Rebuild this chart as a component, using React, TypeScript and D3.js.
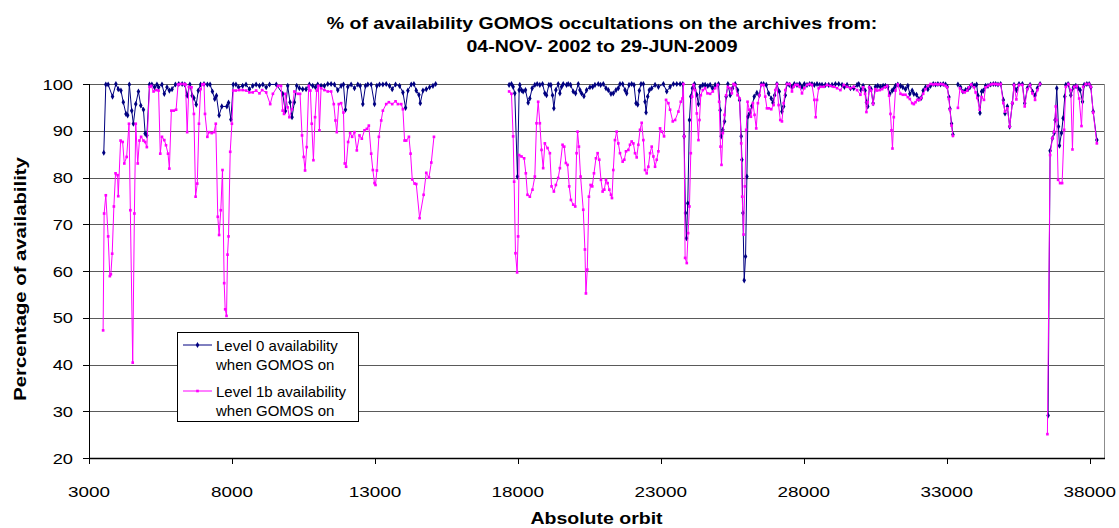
import React from 'react';
import * as d3 from 'd3';

const W = 1119;
const H = 528;

const titleLines = ['% of availability GOMOS occultations on the archives from:', '04-NOV- 2002 to 29-JUN-2009'];
const xTitle = 'Absolute orbit';
const yTitle = 'Percentage of availability';
const xTicks = [3000, 8000, 13000, 18000, 23000, 28000, 33000, 38000];
const yTicks = [20, 30, 40, 50, 60, 70, 80, 90, 100];
const legendLabels = [
  ['Level 0 availability', 'when GOMOS on'],
  ['Level 1b availability', 'when GOMOS on'],
];

type Pt = [number, number | null];

// Level 0 availability when GOMOS on: [absolute orbit, %] (null = no data)
const level0: Pt[] = [
  [3517, 85.3], [3588, 99.9], [3670, 99.9], [3823, 97.3], [3941, 100], [4023, 98.9], [4117, 98.6],
  [4200, 96.1], [4294, 93.6], [4352, 93.3], [4411, 99.9], [4494, 94.3], [4552, 91.5], [4635, 95.7],
  [4729, 98.4], [4811, 95.4], [4905, 94.5], [4964, 89.4], [5023, 89.0], [5117, 99.9], [5199, 99.9],
  [5293, 99.3], [5376, 99.9], [5434, 99.3], [5552, 99.9], [5634, 97.9], [5728, 99.3], [5811, 98.6],
  [5905, 98.9], [6022, 99.9], [6140, 100], [6258, 100], [6352, 99.9], [6434, 97.5], [6528, 99.9],
  [6610, 97.5], [6669, 97.0], [6751, 95.6], [6822, 98.6], [6904, 99.9], [7022, 100], [7140, 99.9],
  [7234, 99.9], [7316, 98.4], [7398, 96.8], [7457, 97.5], [7551, 93.3], [7645, 95.2], [7822, 95.2],
  [7880, 96.0], [7963, 92.4], [8045, 99.9], [8139, 99.9], [8233, 99.3], [8374, 99.6], [8492, 99.9],
  [8610, 98.9], [8727, 99.6], [8845, 99.9], [8962, 99.6], [9080, 99.9], [9197, 99.3], [9315, 99.9],
  [9550, 99.9], [9774, 97.9], [9867, 94.2], [9949, 99.6], [10031, 96.1], [10101, 92.9], [10183, 96.1],
  [10265, 99.6], [10358, 99.1], [10475, 98.9], [10592, 98.9], [10708, 99.9], [10825, 99.6], [10919, 99.3],
  [11000, 99.9], [11117, 99.6], [11234, 99.6], [11351, 100], [11468, 100], [11584, 99.9], [11701, 98.7],
  [11818, 99.6], [11900, 99.9], [11970, 94.5], [12052, 99.4], [12168, 99.9], [12285, 99.1], [12402, 99.9],
  [12484, 99.6], [12577, 95.7], [12671, 99.6], [12752, 99.9], [12869, 99.9], [12986, 95.7], [13068, 99.6],
  [13161, 99.9], [13278, 99.9], [13395, 100], [13512, 99.6], [13605, 98.9], [13722, 99.9], [13862, 99.6],
  [13979, 98.2], [14072, 94.9], [14154, 98.6], [14271, 99.9], [14364, 100], [14446, 98.6], [14539, 97.7],
  [14586, 95.9], [14680, 98.6], [14796, 98.9], [14913, 99.3], [15030, 99.6], [15124, 100],
  [16400, null],
  [17694, 99.8], [17776, 100], [17834, 99.4], [17892, 98.0], [17986, 80.2], [18044, 98.7], [18068, 99.8],
  [18126, 98.7], [18184, 98.4], [18266, 98.7], [18360, 96.0], [18418, 96.9], [18500, 99.1], [18593, 99.8],
  [18675, 100], [18768, 99.8], [18862, 100], [18944, 98.0], [19002, 97.6], [19084, 99.8], [19154, 99.8],
  [19212, 97.6], [19259, 94.8], [19329, 98.7], [19411, 100], [19469, 98.0], [19528, 99.4], [19586, 100],
  [19703, 99.8], [19761, 100], [19843, 99.8], [19936, 98.4], [20018, 98.0], [20112, 100], [20170, 98.7],
  [20228, 98.0], [20310, 97.4], [20404, 98.7], [20520, 99.3], [20614, 99.4], [20696, 99.8], [20812, 100],
  [20894, 99.8], [20988, 100], [21081, 99.1], [21163, 98.7], [21256, 97.9], [21338, 98.0], [21431, 98.7],
  [21513, 99.1], [21572, 100], [21665, 100], [21747, 98.7], [21805, 98.0], [21887, 99.8], [21980, 100],
  [22062, 99.8], [22132, 95.9], [22191, 95.6], [22249, 98.6], [22307, 100], [22389, 100], [22448, 96.2],
  [22483, 93.9], [22541, 97.3], [22599, 98.7], [22681, 99.1], [22798, 99.8], [22915, 99.4], [23090, 100],
  [23207, 98.4], [23323, 99.4], [23440, 100], [23557, 100], [23674, 100], [23767, 100], [23814, 88.8],
  [23861, 72.4], [23896, 67.0], [23942, 74.5], [24001, 92.3], [24048, 97.3], [24106, 99.1], [24176, 100],
  [24258, 97.7], [24316, 95.7], [24375, 99.4], [24468, 99.8], [24550, 99.8], [24643, 99.6], [24725, 99.8],
  [24807, 99.1], [24900, 99.8], [25017, 100], [25075, 94.4], [25110, 88.8], [25169, 90.2], [25227, 92.0],
  [25285, 97.3], [25344, 100], [25426, 97.6], [25508, 99.1], [25601, 100], [25683, 98.7], [25753, 96.6],
  [25811, 88.8], [25835, 83.8], [25870, 72.4], [25916, 58.0], [25963, 63.1], [26010, 80.2], [26045, 93.0],
  [26103, 93.7], [26185, 95.3], [26267, 97.3], [26360, 98.1], [26442, 97.6], [26512, 100], [26594, 100],
  [26687, 99.8], [26769, 98.0], [26862, 96.9], [26921, 96.0], [26979, 97.6], [27061, 100], [27143, 98.4],
  [27236, 94.1], [27295, 95.2], [27353, 97.6], [27411, 100], [27493, 99.8], [27587, 99.4], [27668, 100],
  [27762, 99.8], [27855, 100], [27937, 99.4], [28019, 100], [28112, 99.8], [28206, 100], [28287, 100],
  [28369, 99.8], [28463, 100], [28556, 99.8], [28638, 99.8], [28755, 99.8], [28871, 99.8], [28988, 99.8],
  [29105, 100], [29222, 100], [29338, 99.8], [29420, 99.4], [29514, 99.8], [29631, 99.1], [29748, 99.1],
  [29864, 99.8], [29922, 100], [30004, 98.7], [30074, 99.6], [30144, 98.6], [30191, 96.1], [30237, 95.2],
  [30296, 99.3], [30354, 98.9], [30424, 95.9], [30506, 99.4], [30588, 99.6], [30681, 99.4], [30775, 99.6],
  [30856, 99.6], [30938, 99.4], [31008, 97.9], [31090, 98.6], [31148, 98.9], [31207, 99.6], [31289, 99.9],
  [31382, 99.6], [31464, 99.3], [31557, 98.9], [31639, 99.6], [31709, 97.9], [31791, 98.6], [31849, 97.9],
  [31943, 97.7], [32024, 96.8], [32106, 97.0], [32176, 98.6], [32258, 99.3], [32340, 98.9], [32433, 99.6],
  [32527, 100], [32608, 99.9], [32690, 100], [32784, 99.9], [32877, 100], [32959, 99.9], [33017, 99.4],
  [33076, 97.2], [33111, 94.7], [33169, 91.5], [33216, 89.2],
  [33300, null],
  [33391, 99.9], [33484, 99.3], [33566, 98.4], [33660, 98.7], [33741, 98.9], [33811, 99.3], [33893, 99.9],
  [33975, 99.6], [34045, 99.9], [34092, 97.5], [34162, 93.8], [34220, 98.4], [34279, 98.6], [34360, 99.6],
  [34442, 99.6], [34536, 99.9], [34629, 100], [34711, 100], [34793, 99.9], [34886, 100], [34979, 96.6],
  [35038, 93.7], [35120, 95.2], [35201, 90.9], [35295, 95.9], [35353, 99.8], [35435, 98.7], [35528, 100],
  [35645, 100], [35727, 95.9], [35820, 99.1], [35914, 99.8], [35996, 98.4], [36089, 97.6], [36171, 99.1],
  [36264, 100],
  [36400, null],
  [36545, 29.1], [36615, 85.7], [36696, 88.4], [36755, 89.5], [36790, 92.3], [36848, 99.1], [36907, 90.9],
  [36942, 86.8], [37012, 89.5], [37070, 92.7], [37129, 97.3], [37164, 99.8], [37245, 100], [37339, 97.6],
  [37432, 99.3], [37514, 99.6], [37596, 99.1], [37666, 98.7], [37748, 96.2], [37806, 99.8], [37900, 100],
  [37981, 100], [38040, 99.3], [38121, 94.1], [38250, 88.0],
];

// Level 1b availability when GOMOS on: [absolute orbit, %] (null = no data)
const level1b: Pt[] = [
  [3494, 47.3], [3529, 72.3], [3588, 76.2], [3670, 67.4], [3729, 58.9], [3764, 59.3], [3811, 63.7],
  [3870, 73.8], [3929, 80.9], [4000, 80.5], [4023, 76.0], [4105, 87.9], [4176, 87.6], [4235, 83.0],
  [4317, 84.4], [4399, 91.5], [4446, 73.0], [4529, 40.4], [4588, 72.3], [4635, 91.5], [4705, 83.0],
  [4764, 87.9], [4823, 88.7], [4905, 87.9], [4964, 87.6], [5023, 86.5], [5117, 99.4], [5176, 99.6],
  [5258, 98.4], [5352, 98.7], [5434, 98.6], [5493, 85.1], [5552, 88.7], [5634, 88.0], [5693, 86.9],
  [5764, 85.1], [5811, 81.9], [5881, 94.3], [5964, 94.3], [6046, 94.5], [6116, 99.9], [6199, 100],
  [6316, 100], [6375, 99.9], [6434, 89.7], [6493, 99.4], [6587, 99.3], [6669, 93.6], [6728, 75.9],
  [6787, 78.7], [6846, 91.5], [6904, 98.9], [6963, 99.9], [7022, 100], [7057, 93.6], [7140, 88.7],
  [7198, 89.7], [7292, 89.5], [7375, 89.7], [7434, 91.5], [7504, 71.6], [7551, 67.7], [7610, 73.0],
  [7669, 81.6], [7728, 57.4], [7763, 51.8], [7810, 50.4], [7845, 63.5], [7880, 67.4], [7939, 85.5],
  [7998, 91.5], [8045, 98.6], [8139, 98.6], [8257, 98.7], [8374, 98.7], [8492, 98.6], [8610, 98.2],
  [8727, 98.2], [8845, 98.6], [8962, 98.0], [9056, 98.7], [9197, 98.2], [9338, 95.7], [9432, 97.9],
  [9609, 99.6], [9716, 99.6], [9774, 94.3], [9821, 93.6], [9867, 97.9], [9949, 95.0], [10008, 92.9],
  [10101, 94.6], [10183, 98.4], [10300, 97.9], [10381, 97.9], [10451, 89.0], [10510, 84.4], [10557, 81.5],
  [10615, 86.5], [10685, 99.6], [10743, 98.6], [10790, 91.5], [10849, 83.7], [10907, 92.9], [10965, 98.6],
  [11024, 99.6], [11059, 90.1], [11117, 99.1], [11234, 98.7], [11351, 98.4], [11468, 98.4], [11561, 95.7],
  [11619, 92.2], [11666, 89.7], [11736, 95.7], [11818, 95.9], [11900, 93.9], [11946, 83.0], [11993, 82.3],
  [12063, 87.6], [12133, 89.5], [12203, 88.7], [12285, 89.7], [12367, 85.8], [12460, 89.0], [12542, 88.3],
  [12636, 90.1], [12717, 90.4], [12787, 91.1], [12869, 85.1], [12928, 81.6], [12986, 78.8], [13021, 78.4],
  [13068, 81.5], [13138, 88.7], [13220, 92.2], [13278, 94.3], [13395, 95.7], [13488, 96.1], [13605, 95.7],
  [13722, 96.3], [13804, 95.7], [13920, 95.7], [13979, 94.6], [14037, 87.9], [14096, 87.9], [14189, 88.7],
  [14247, 85.1], [14306, 79.6], [14388, 78.7], [14446, 78.6], [14563, 71.3], [14703, 76.3], [14796, 81.0],
  [14890, 80.0], [14972, 83.2], [15065, 88.7],
  [16400, null],
  [17694, 98.4], [17776, 97.9], [17834, 88.8], [17869, 79.1], [17916, 63.8], [17974, 59.7], [18009, 67.4],
  [18044, 84.8], [18126, 84.5], [18219, 84.1], [18278, 80.9], [18336, 76.3], [18418, 75.9], [18511, 77.4],
  [18593, 80.2], [18652, 91.6], [18710, 96.2], [18768, 91.6], [18827, 85.9], [18885, 82.0], [18944, 87.3],
  [19037, 86.3], [19119, 85.2], [19177, 78.1], [19259, 77.0], [19329, 78.4], [19411, 79.9], [19469, 82.0],
  [19563, 87.0], [19621, 86.6], [19679, 83.1], [19738, 82.7], [19796, 78.1], [19855, 75.2], [19936, 74.2],
  [20006, 73.8], [20053, 85.2], [20088, 89.8], [20135, 86.6], [20193, 80.2], [20287, 73.1], [20345, 64.6],
  [20380, 55.2], [20427, 60.3], [20485, 75.9], [20544, 78.4], [20602, 78.1], [20661, 80.9], [20731, 84.1],
  [20789, 85.2], [20847, 83.8], [20906, 79.5], [20964, 77.0], [21023, 77.4], [21081, 79.5], [21139, 78.8],
  [21198, 77.4], [21256, 76.3], [21291, 75.6], [21338, 81.6], [21396, 88.0], [21455, 89.8], [21513, 87.3],
  [21572, 85.2], [21665, 83.4], [21723, 83.8], [21782, 85.6], [21864, 85.9], [21922, 87.0], [21980, 87.7],
  [22039, 87.3], [22097, 85.2], [22156, 84.3], [22214, 87.0], [22272, 90.2], [22331, 91.7], [22389, 88.0],
  [22448, 81.6], [22506, 80.9], [22564, 82.3], [22623, 85.2], [22681, 86.6], [22740, 84.5], [22798, 82.3],
  [22856, 83.8], [22915, 85.6], [22973, 90.5], [23031, 89.8], [23113, 88.8], [23183, 96.6], [23265, 95.9],
  [23323, 94.5], [23417, 92.0], [23499, 92.3], [23615, 94.1], [23697, 96.2], [23756, 96.9], [23791, 100],
  [23814, 88.8], [23849, 62.8], [23907, 61.7], [23954, 68.1], [24001, 73.8], [24048, 85.2], [24094, 97.3],
  [24141, 99.8], [24199, 98.7], [24258, 93.7], [24316, 88.0], [24351, 92.3], [24398, 97.6], [24468, 98.7],
  [24550, 99.1], [24632, 98.0], [24725, 97.9], [24818, 98.4], [24900, 99.1], [24982, 99.8], [25040, 96.2],
  [25087, 86.6], [25122, 82.7], [25169, 89.5], [25227, 93.4], [25285, 97.6], [25344, 99.4], [25426, 99.1],
  [25484, 98.0], [25543, 100], [25601, 99.8], [25683, 97.6], [25753, 96.9], [25811, 87.3], [25846, 75.9],
  [25893, 67.8], [25940, 78.1], [25986, 90.2], [26033, 96.2], [26092, 94.5], [26150, 93.0], [26220, 95.9],
  [26278, 93.4], [26337, 90.5], [26395, 95.9], [26453, 97.6], [26512, 99.8], [26594, 99.8], [26652, 97.3],
  [26711, 94.8], [26781, 94.8], [26862, 94.6], [26944, 95.5], [27003, 98.7], [27061, 100], [27119, 95.5],
  [27178, 92.3], [27236, 92.0], [27295, 95.9], [27353, 98.7], [27411, 100], [27505, 100], [27587, 98.4],
  [27645, 99.4], [27703, 99.8], [27785, 99.8], [27855, 99.4], [27937, 98.0], [28019, 99.1], [28112, 99.8],
  [28206, 100], [28287, 99.8], [28369, 96.6], [28416, 92.9], [28463, 96.6], [28521, 99.1], [28580, 99.4],
  [28696, 99.4], [28813, 99.8], [28930, 99.6], [29047, 99.4], [29163, 99.1], [29280, 98.7], [29397, 99.8],
  [29514, 99.4], [29631, 99.1], [29748, 99.4], [29864, 98.7], [29980, 97.7], [30074, 99.3], [30144, 97.9],
  [30191, 94.0], [30237, 96.1], [30296, 99.3], [30354, 98.6], [30424, 95.7], [30506, 98.9], [30564, 98.6],
  [30658, 98.7], [30740, 98.9], [30833, 99.3], [30915, 99.6], [30985, 97.5], [31032, 93.6], [31067, 90.1],
  [31102, 86.2], [31148, 92.9], [31207, 98.6], [31289, 99.9], [31382, 97.9], [31464, 97.7], [31557, 97.7],
  [31639, 97.2], [31709, 96.8], [31791, 95.9], [31849, 95.7], [31908, 96.1], [31966, 96.6], [32048, 96.6],
  [32106, 97.0], [32176, 97.9], [32258, 98.9], [32340, 99.6], [32433, 100], [32527, 99.9], [32608, 100],
  [32690, 99.9], [32784, 100], [32877, 99.9], [32959, 99.6], [33017, 99.3], [33076, 96.8], [33111, 94.5],
  [33169, 91.1], [33216, 88.9],
  [33300, null],
  [33391, 94.9], [33461, 99.1], [33543, 98.4], [33625, 98.2], [33718, 98.6], [33776, 99.3], [33858, 99.9],
  [33952, 99.3], [34010, 98.2], [34068, 97.0], [34150, 94.5], [34220, 97.2], [34302, 96.6], [34360, 99.3],
  [34442, 99.6], [34536, 99.9], [34629, 100], [34711, 100], [34793, 99.9], [34886, 100], [34979, 95.9],
  [35038, 94.1], [35120, 94.8], [35201, 90.9], [35295, 95.9], [35353, 99.8], [35435, 96.7], [35528, 99.8],
  [35645, 99.8], [35727, 95.2], [35820, 98.9], [35914, 99.8], [35996, 98.0], [36089, 96.6], [36171, 98.7],
  [36264, 100],
  [36400, null],
  [36521, 25.1], [36615, 84.8], [36696, 88.4], [36755, 89.8], [36813, 95.2], [36848, 92.3], [36895, 79.5],
  [36965, 78.8], [37035, 78.8], [37105, 90.2], [37164, 99.4], [37257, 100], [37339, 98.7], [37397, 86.0],
  [37456, 99.4], [37549, 99.6], [37631, 96.9], [37713, 91.0], [37771, 99.4], [37865, 100], [37981, 100],
  [38040, 99.4], [38121, 93.9], [38250, 87.3],
];

const NAVY = '#000080';
const MAGENTA = '#FF00FF';
const FONT = '"Liberation Sans", Arial, Helvetica, sans-serif';
const SX = 1.22; // horizontal stretch of the original chart's text

export default function App() {
  const x = d3.scaleLinear().domain([3000, 38500]).range([89, 1104]);
  const y = d3.scaleLinear().domain([20, 100]).range([458, 84]);
  const left = x.range()[0];
  const right = x.range()[1];
  const top = y(100);
  const bottom = y(20);

  const line = d3
    .line<Pt>()
    .defined((d) => d[1] !== null)
    .x((d) => x(d[0]))
    .y((d) => y(d[1] as number));

  const diamond = d3.symbol().type(d3.symbolDiamond).size(11)() as string;
  const square = d3.symbol().type(d3.symbolSquare).size(7)() as string;

  const series = [
    { data: level0, color: NAVY, marker: diamond },
    { data: level1b, color: MAGENTA, marker: square },
  ];

  const legX = 177;
  const legY = 332;

  return (
    <svg
      width={W}
      height={H}
      style={{ position: 'absolute', left: 0, top: 0, background: '#fff' }}
      fontFamily={FONT}
    >
      <rect x={0} y={0} width={W} height={H} fill="#fff" />
      {/* title */}
      {titleLines.map((t, i) => (
        <text
          key={i}
          transform={`translate(602, ${29 + i * 23}) scale(${SX}, 1)`}
          textAnchor="middle"
          fontSize={16}
          fontWeight="bold"
          fill="#000"
        >
          {t}
        </text>
      ))}
      {/* gridlines */}
      {yTicks
        .filter((v) => v > 20)
        .map((v) => (
          <line key={v} x1={left} x2={right} y1={Math.round(y(v)) + 0.5} y2={Math.round(y(v)) + 0.5} stroke="#5a5a5a" strokeWidth={1} />
        ))}
      {/* plot border right */}
      <line x1={right + 0.5} x2={right + 0.5} y1={top} y2={bottom} stroke="#8c8c8c" strokeWidth={1} />
      {/* axes */}
      <line x1={left + 0.5} x2={left + 0.5} y1={top} y2={bottom + 0.5} stroke="#000" strokeWidth={1} />
      <line x1={left} x2={right + 1} y1={bottom + 0.5} y2={bottom + 0.5} stroke="#000" strokeWidth={1.5} />
      {yTicks.map((v) => (
        <g key={v}>
          <line x1={left - 6} x2={left} y1={Math.round(y(v)) + 0.5} y2={Math.round(y(v)) + 0.5} stroke="#000" />
          <text transform={`translate(73, ${y(v) + 5.5}) scale(${SX}, 1)`} textAnchor="end" fontSize={15} fill="#000">
            {v}
          </text>
        </g>
      ))}
      {xTicks.map((v) => (
        <g key={v}>
          <line x1={Math.round(x(v)) + 0.5} x2={Math.round(x(v)) + 0.5} y1={bottom} y2={bottom + 6} stroke="#000" />
          <text transform={`translate(${x(v)}, 497) scale(${SX + 0.04}, 1)`} textAnchor="middle" fontSize={15} fill="#000">
            {v}
          </text>
        </g>
      ))}
      <text transform={`translate(${(left + right) / 2}, 524) scale(${SX}, 1)`} textAnchor="middle" fontSize={16} fontWeight="bold" fill="#000">
        {xTitle}
      </text>
      <text
        transform={`translate(26, 279) rotate(-90) scale(1.27, 1)`}
        textAnchor="middle"
        fontSize={16}
        fontWeight="bold"
        fill="#000"
      >
        {yTitle}
      </text>
      {/* series */}
      {series.map((s, i) => (
        <g key={i}>
          <path d={line(s.data) as string} fill="none" stroke={s.color} strokeWidth={1} strokeLinejoin="round" />
          {s.data
            .filter((d) => d[1] !== null)
            .map((d, j) => (
              <path key={j} d={s.marker} transform={`translate(${x(d[0])},${y(d[1] as number)})`} fill={s.color} />
            ))}
        </g>
      ))}
      {/* legend */}
      <rect x={legX + 0.5} y={legY + 0.5} width={181} height={89} fill="#fff" stroke="#000" strokeWidth={1} />
      {series.map((s, i) => (
        <g key={i}>
          <line x1={legX + 6} x2={legX + 35} y1={legY + 13 + i * 46} y2={legY + 13 + i * 46} stroke={s.color} strokeWidth={1} />
          <path d={s.marker} transform={`translate(${legX + 20.5},${legY + 13 + i * 46})`} fill={s.color} />
          <text x={legX + 39} y={legY + 19 + i * 46} fontSize={15} fill="#000">
            {legendLabels[i][0]}
          </text>
          <text x={legX + 39} y={legY + 38 + i * 46} fontSize={15} fill="#000">
            {legendLabels[i][1]}
          </text>
        </g>
      ))}
    </svg>
  );
}
